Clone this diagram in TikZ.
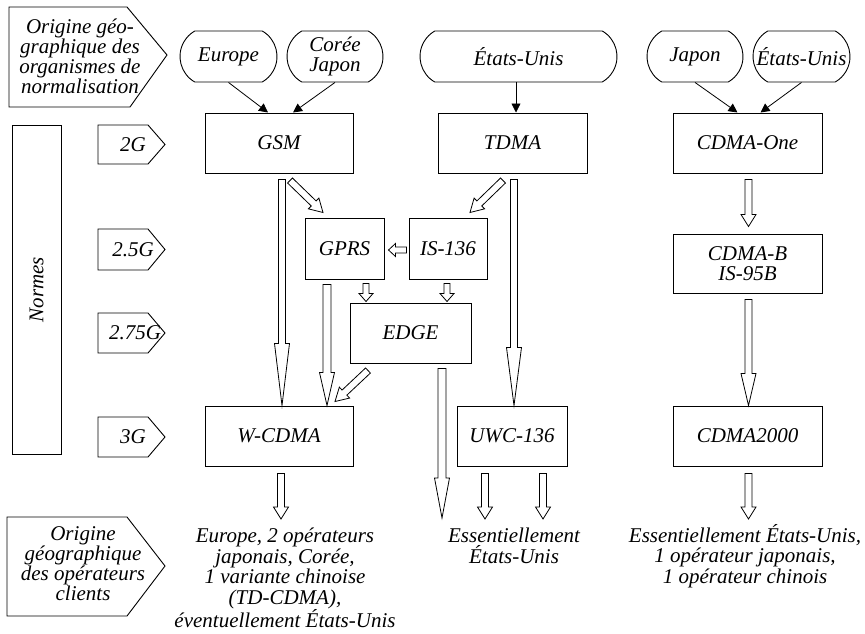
\documentclass[tikz,border=0pt]{standalone}
\usepackage{fontspec}
\setmainfont{Liberation Serif}
\usetikzlibrary{calc,shapes.misc,arrows.meta}
\newcommand\lbl{\fontsize{21}{20}\selectfont\itshape}
\newcommand\blk[5]{% start, end, half shaft, half head, head length
  \coordinate (bkA) at #1;
  \coordinate (bkB) at #2;
  \coordinate (bkH) at ($(bkB)!#5!(bkA)$);
  \draw[hollow] ($(bkA)!#3!90:(bkB)$) -- ($(bkH)!#3!90:(bkB)$) -- ($(bkH)!#4!90:(bkB)$) -- (bkB)
     -- ($(bkH)!#4!-90:(bkB)$) -- ($(bkH)!#3!-90:(bkB)$) -- ($(bkA)!#3!-90:(bkB)$) -- cycle;
}
\begin{document}
\begin{tikzpicture}[x=1pt,y=-1pt,
  box/.style={draw, line width=1pt, inner sep=0pt, font=\lbl, align=center},
  oval/.style={draw, line width=0.9pt, rounded rectangle, rounded rectangle arc length=120, inner sep=0pt},
  txt/.style={inner sep=0pt, font=\lbl, align=center},
  thinarr/.style={line width=0.8pt, -{Triangle[width=9pt,length=9pt]}},
  hollow/.style={draw, line width=0.8pt, fill=white, line join=miter},
  pent/.style={draw, line width=0.9pt}]
\useasboundingbox (0,0) rectangle (865,634);

% --- left column pentagons
\draw[pent] (9,7) -- (127,7) -- (167,55) -- (130,107) -- (9,107) -- cycle;
\node[txt, font=\fontsize{21}{15.5}\selectfont\itshape] (orgn) at (80,56) {Origine géo-\\graphique des\\organismes de\\normalisation};
\draw[pent] (7,517) -- (127,517) -- (165,566) -- (127,616) -- (7,616) -- cycle;
\node[txt, font=\fontsize{21}{18.7}\selectfont\itshape] (orgo) at (83,564) {Origine\\géographique\\des opérateurs\\clients};

\node[box, rotate=90, minimum width=329pt, minimum height=49pt] (normes) at (36.5,289.5) {Normes};

\draw[pent] (98,125) -- (148,125) -- (165,144.5) -- (148,164) -- (98,164) -- cycle;
\node[txt] (l2) at (133,145) {2G};
\draw[pent] (98,229) -- (148,229) -- (165,249.5) -- (148,270) -- (98,270) -- cycle;
\node[txt] (l25) at (133,249.5) {2.5G};
\draw[pent] (98,313) -- (148,313) -- (165,333) -- (148,353) -- (98,353) -- cycle;
\node[txt] (l275) at (135,333) {2.75G};
\draw[pent] (98,417) -- (148,417) -- (165,437) -- (148,457) -- (98,457) -- cycle;
\node[txt] (l3) at (133,437) {3G};

% --- origin ovals
\node[oval, minimum width=97pt, minimum height=51pt] (eur) at (228.5,56.5) {};
\node[txt] at (eur.center) {Europe};
\node[oval, minimum width=96pt, minimum height=51pt] (cor) at (335,56.5) {};
\node[txt] at (cor.center) {Corée\\Japon};
\node[oval, minimum width=197pt, minimum height=51pt] (usa) at (518.5,56.5) {};
\node[txt] at (usa.center) {États-Unis};
\node[oval, minimum width=96pt, minimum height=51pt] (jap) at (695,56.5) {};
\node[txt] at (jap.center) {Japon};
\node[oval, minimum width=97pt, minimum height=51pt] (usb) at (801.5,56.5) {};
\node[txt] at (usb.center) {États-Unis};

% --- standards boxes
\node[box, minimum width=148pt, minimum height=60pt] (gsm) at (279,143) {GSM};
\node[box, minimum width=149pt, minimum height=60pt] (tdma) at (512.5,143) {TDMA};
\node[box, minimum width=149pt, minimum height=60pt] (cone) at (747.5,143) {CDMA-One};
\node[box, minimum width=79pt, minimum height=61pt] (gprs) at (344.5,248.5) {GPRS};
\node[box, minimum width=78pt, minimum height=61pt] (is) at (448,248.5) {IS-136};
\node[box, minimum width=121pt, minimum height=60pt] (edge) at (410.5,333) {EDGE};
\node[box, minimum width=149pt, minimum height=59pt] (cb) at (747.5,263.5) {CDMA-B\\IS-95B};
\node[box, minimum width=148pt, minimum height=60pt] (wc) at (279,436) {W-CDMA};
\node[box, minimum width=110pt, minimum height=60pt] (uwc) at (512,436) {UWC-136};
\node[box, minimum width=149pt, minimum height=60pt] (c2k) at (747.5,436) {CDMA2000};

% --- client texts
\node[txt, anchor=north, font=\fontsize{21}{20.5}\selectfont\itshape] (outw) at (285,528) {Europe, 2 opérateurs\\japonais, Corée,\\1 variante chinoise\\(TD-CDMA),\\éventuellement États-Unis};
\node[txt, anchor=north, font=\fontsize{21}{20.5}\selectfont\itshape] (outu) at (514,528) {Essentiellement\\États-Unis};
\node[txt, anchor=north, font=\fontsize{21}{20.5}\selectfont\itshape] (outc) at (745,524) {Essentiellement États-Unis,\\1 opérateur japonais,\\1 opérateur chinois};

% --- thin arrows
\draw[thinarr] (eur.south) -- ($(gsm.north)+(-11,0)$);
\draw[thinarr] (cor.south) -- ($(gsm.north)+(14,0)$);
\draw[thinarr] ($(usa.south)+(-2.5,0)$) -- ($(tdma.north)+(3.5,0)$);
\draw[thinarr] (jap.south) -- ($(cone.north)+(-10,0)$);
\draw[thinarr] (usb.south) -- ($(cone.north)+(13,0)$);

% --- free ends
\coordinate (ew) at (281,519);
\coordinate (eu1) at (485,519);
\coordinate (eu2) at (543,519);
\coordinate (ec) at (748.5,519);
\coordinate (ee) at (442,518);

% --- hollow arrows
\blk{($(gsm.south)+(3,6)$)}{($(wc.north)+(3,0)$)}{3.5pt}{7.5pt}{62pt}
\blk{($(tdma.south)+(1.5,6)$)}{($(uwc.north)+(2,0)$)}{3.5pt}{7.5pt}{58pt}
\blk{($(gprs.south)+(-17.5,5)$)}{($(wc.north)+(48,0)$)}{4pt}{7.5pt}{33pt}
\blk{($(edge.south)+(31.5,5)$)}{(ee)}{4pt}{7.5pt}{40pt}
\blk{($(cb.south)+(1,6)$)}{($(c2k.north)+(1,0)$)}{3.5pt}{7.5pt}{32pt}
\blk{($(cone.south)+(1,6)$)}{($(cb.north)+(1,-7)$)}{3.5pt}{7.5pt}{12pt}
\blk{($(wc.south)+(2,7)$)}{(ew)}{3.5pt}{7.5pt}{12pt}
\blk{($(uwc.south)+(-27,7)$)}{(eu1)}{3.5pt}{7.5pt}{12pt}
\blk{($(uwc.south)+(31,7)$)}{(eu2)}{3.5pt}{7.5pt}{12pt}
\blk{($(c2k.south)+(1,7)$)}{(ec)}{3.5pt}{7.5pt}{12pt}
\blk{($(gprs.south)+(21.5,4)$)}{($(edge.north)+(-44.5,-1)$)}{3pt}{7pt}{8pt}
\blk{($(is.south)+(-1,4)$)}{($(edge.north)+(36.5,-1)$)}{3pt}{7pt}{8pt}
\blk{($(is.west)+(-2,1.5)$)}{($(gprs.east)+(4,1.5)$)}{3pt}{6.5pt}{7pt}
\blk{($(gsm.south)+(11,7)$)}{($(gprs.north)+(-21.5,-5)$)}{3.5pt}{7.5pt}{13pt}
\blk{($(tdma.south)+(-9.5,7)$)}{($(is.north)+(22,-5)$)}{3.5pt}{7.5pt}{13pt}
\blk{($(edge.south)+(-42.5,7)$)}{($(wc.north)+(56,-4)$)}{3.5pt}{7.5pt}{13pt}
\end{tikzpicture}
\end{document}
